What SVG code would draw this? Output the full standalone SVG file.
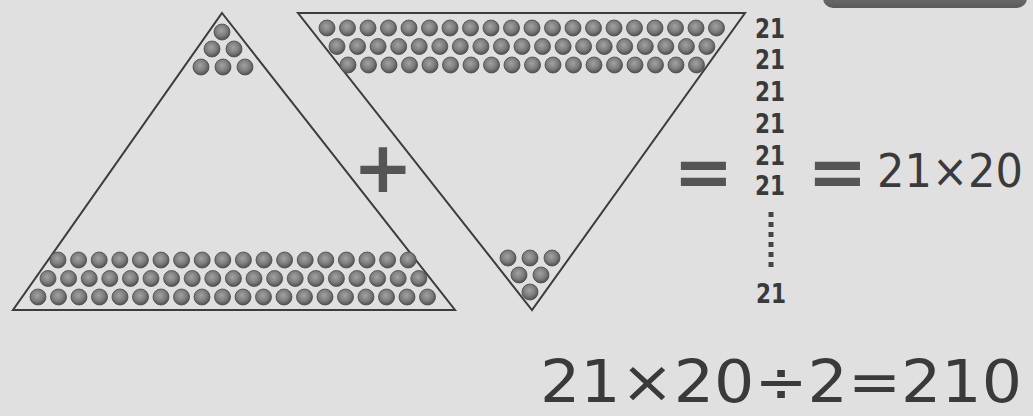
<svg xmlns="http://www.w3.org/2000/svg" width="1033" height="416" viewBox="0 0 1033 416">
<defs>
<radialGradient id="dg" cx="45%" cy="40%" r="60%">
<stop offset="0" stop-color="#a2a2a2"/>
<stop offset="0.6" stop-color="#7c7c7c"/>
<stop offset="1" stop-color="#505050"/>
</radialGradient>
<linearGradient id="tab" x1="0" y1="0" x2="0" y2="1">
<stop offset="0" stop-color="#9a9a9a"/>
<stop offset="1" stop-color="#5a5a5a"/>
</linearGradient>
</defs>
<style>
.tri{fill:none;stroke:#3c3c3c;stroke-width:2;stroke-linejoin:miter}
.dot{fill:url(#dg);stroke:#4a4a4a;stroke-width:0.8}
.t{font-family:"DejaVu Sans","Liberation Sans",sans-serif;fill:#3a3a3a}
.num{font-size:27px;font-weight:bold}
.op{font-size:72px;font-weight:bold;fill:#555}
</style>
<rect x="0" y="0" width="1033" height="416" fill="#e0e0e0"/>
<rect x="823" y="-30" width="204" height="38" rx="10" fill="url(#tab)"/>

<g id="left-triangle">
<polygon class="tri" points="222,13 455,310 13,310"/>
<g>
<circle class="dot" cx="222" cy="32" r="8"/>
<circle class="dot" cx="212" cy="49" r="8"/><circle class="dot" cx="234" cy="49" r="8"/>
<circle class="dot" cx="201" cy="67" r="8"/><circle class="dot" cx="223" cy="67" r="8"/><circle class="dot" cx="245" cy="67" r="8"/>
</g>
<g>
<circle class="dot" cx="58" cy="260" r="8"/><circle class="dot" cx="78.6" cy="260" r="8"/><circle class="dot" cx="99.2" cy="260" r="8"/><circle class="dot" cx="119.8" cy="260" r="8"/><circle class="dot" cx="140.4" cy="260" r="8"/><circle class="dot" cx="161" cy="260" r="8"/><circle class="dot" cx="181.6" cy="260" r="8"/><circle class="dot" cx="202.2" cy="260" r="8"/><circle class="dot" cx="222.8" cy="260" r="8"/><circle class="dot" cx="243.4" cy="260" r="8"/><circle class="dot" cx="264" cy="260" r="8"/><circle class="dot" cx="284.6" cy="260" r="8"/><circle class="dot" cx="305.2" cy="260" r="8"/><circle class="dot" cx="325.8" cy="260" r="8"/><circle class="dot" cx="346.4" cy="260" r="8"/><circle class="dot" cx="367" cy="260" r="8"/><circle class="dot" cx="387.6" cy="260" r="8"/><circle class="dot" cx="408.2" cy="260" r="8"/>
<circle class="dot" cx="48" cy="278.5" r="8"/><circle class="dot" cx="68.6" cy="278.5" r="8"/><circle class="dot" cx="89.2" cy="278.5" r="8"/><circle class="dot" cx="109.8" cy="278.5" r="8"/><circle class="dot" cx="130.4" cy="278.5" r="8"/><circle class="dot" cx="151" cy="278.5" r="8"/><circle class="dot" cx="171.6" cy="278.5" r="8"/><circle class="dot" cx="192.2" cy="278.5" r="8"/><circle class="dot" cx="212.8" cy="278.5" r="8"/><circle class="dot" cx="233.4" cy="278.5" r="8"/><circle class="dot" cx="254" cy="278.5" r="8"/><circle class="dot" cx="274.6" cy="278.5" r="8"/><circle class="dot" cx="295.2" cy="278.5" r="8"/><circle class="dot" cx="315.8" cy="278.5" r="8"/><circle class="dot" cx="336.4" cy="278.5" r="8"/><circle class="dot" cx="357" cy="278.5" r="8"/><circle class="dot" cx="377.6" cy="278.5" r="8"/><circle class="dot" cx="398.2" cy="278.5" r="8"/><circle class="dot" cx="418.8" cy="278.5" r="8"/>
<circle class="dot" cx="38" cy="297" r="8"/><circle class="dot" cx="58.5" cy="297" r="8"/><circle class="dot" cx="79" cy="297" r="8"/><circle class="dot" cx="99.5" cy="297" r="8"/><circle class="dot" cx="120" cy="297" r="8"/><circle class="dot" cx="140.5" cy="297" r="8"/><circle class="dot" cx="161" cy="297" r="8"/><circle class="dot" cx="181.5" cy="297" r="8"/><circle class="dot" cx="202" cy="297" r="8"/><circle class="dot" cx="222.5" cy="297" r="8"/><circle class="dot" cx="243" cy="297" r="8"/><circle class="dot" cx="263.5" cy="297" r="8"/><circle class="dot" cx="284" cy="297" r="8"/><circle class="dot" cx="304.5" cy="297" r="8"/><circle class="dot" cx="325" cy="297" r="8"/><circle class="dot" cx="345.5" cy="297" r="8"/><circle class="dot" cx="366" cy="297" r="8"/><circle class="dot" cx="386.5" cy="297" r="8"/><circle class="dot" cx="407" cy="297" r="8"/><circle class="dot" cx="427.5" cy="297" r="8"/>
</g>
</g>

<g id="right-triangle">
<polygon class="tri" points="298,13 745,13 532,310"/>
<g>
<circle class="dot" cx="327" cy="28" r="8"/><circle class="dot" cx="347.5" cy="28" r="8"/><circle class="dot" cx="368" cy="28" r="8"/><circle class="dot" cx="388.5" cy="28" r="8"/><circle class="dot" cx="409" cy="28" r="8"/><circle class="dot" cx="429.5" cy="28" r="8"/><circle class="dot" cx="450" cy="28" r="8"/><circle class="dot" cx="470.5" cy="28" r="8"/><circle class="dot" cx="491" cy="28" r="8"/><circle class="dot" cx="511.5" cy="28" r="8"/><circle class="dot" cx="532" cy="28" r="8"/><circle class="dot" cx="552.5" cy="28" r="8"/><circle class="dot" cx="573" cy="28" r="8"/><circle class="dot" cx="593.5" cy="28" r="8"/><circle class="dot" cx="614" cy="28" r="8"/><circle class="dot" cx="634.5" cy="28" r="8"/><circle class="dot" cx="655" cy="28" r="8"/><circle class="dot" cx="675.5" cy="28" r="8"/><circle class="dot" cx="696" cy="28" r="8"/><circle class="dot" cx="716.5" cy="28" r="8"/>
<circle class="dot" cx="337" cy="46.5" r="8"/><circle class="dot" cx="357.6" cy="46.5" r="8"/><circle class="dot" cx="378.1" cy="46.5" r="8"/><circle class="dot" cx="398.7" cy="46.5" r="8"/><circle class="dot" cx="419.2" cy="46.5" r="8"/><circle class="dot" cx="439.8" cy="46.5" r="8"/><circle class="dot" cx="460.3" cy="46.5" r="8"/><circle class="dot" cx="480.9" cy="46.5" r="8"/><circle class="dot" cx="501.4" cy="46.5" r="8"/><circle class="dot" cx="522" cy="46.5" r="8"/><circle class="dot" cx="542.5" cy="46.5" r="8"/><circle class="dot" cx="563.1" cy="46.5" r="8"/><circle class="dot" cx="583.6" cy="46.5" r="8"/><circle class="dot" cx="604.2" cy="46.5" r="8"/><circle class="dot" cx="624.7" cy="46.5" r="8"/><circle class="dot" cx="645.3" cy="46.5" r="8"/><circle class="dot" cx="665.8" cy="46.5" r="8"/><circle class="dot" cx="686.4" cy="46.5" r="8"/><circle class="dot" cx="706.9" cy="46.5" r="8"/>
<circle class="dot" cx="348" cy="65" r="8"/><circle class="dot" cx="368.5" cy="65" r="8"/><circle class="dot" cx="389" cy="65" r="8"/><circle class="dot" cx="409.5" cy="65" r="8"/><circle class="dot" cx="430" cy="65" r="8"/><circle class="dot" cx="450.5" cy="65" r="8"/><circle class="dot" cx="471" cy="65" r="8"/><circle class="dot" cx="491.5" cy="65" r="8"/><circle class="dot" cx="512" cy="65" r="8"/><circle class="dot" cx="532.5" cy="65" r="8"/><circle class="dot" cx="553" cy="65" r="8"/><circle class="dot" cx="573.5" cy="65" r="8"/><circle class="dot" cx="594" cy="65" r="8"/><circle class="dot" cx="614.5" cy="65" r="8"/><circle class="dot" cx="635" cy="65" r="8"/><circle class="dot" cx="655.5" cy="65" r="8"/><circle class="dot" cx="676" cy="65" r="8"/><circle class="dot" cx="696.5" cy="65" r="8"/>
</g>
<g>
<circle class="dot" cx="508" cy="258" r="8"/><circle class="dot" cx="530" cy="258" r="8"/><circle class="dot" cx="552" cy="258" r="8"/>
<circle class="dot" cx="519" cy="275" r="8"/><circle class="dot" cx="541" cy="275" r="8"/>
<circle class="dot" cx="530" cy="292" r="8"/>
</g>
</g>

<g id="plus">
<text class="t op" x="383" y="192" text-anchor="middle" font-size="66">+</text>
</g>

<g id="equals-1">
<text class="t op" x="703.5" y="196" text-anchor="middle">=</text>
</g>

<g id="column">
<text class="t num" x="755" y="38" textLength="30" lengthAdjust="spacingAndGlyphs">21</text>
<text class="t num" x="755" y="69" textLength="30" lengthAdjust="spacingAndGlyphs">21</text>
<text class="t num" x="755" y="101" textLength="30" lengthAdjust="spacingAndGlyphs">21</text>
<text class="t num" x="755" y="133" textLength="30" lengthAdjust="spacingAndGlyphs">21</text>
<text class="t num" x="755" y="165" textLength="30" lengthAdjust="spacingAndGlyphs">21</text>
<text class="t num" x="755" y="195" textLength="30" lengthAdjust="spacingAndGlyphs">21</text>
<line x1="771" y1="212" x2="771" y2="268" stroke="#444" stroke-width="5" stroke-dasharray="5 5"/>
<text class="t num" x="756" y="303" textLength="30" lengthAdjust="spacingAndGlyphs">21</text>
</g>

<g id="equals-2">
<text class="t op" x="837.5" y="196" text-anchor="middle">=</text>
</g>

<g id="product">
<text class="t" x="877" y="187" font-size="46" textLength="146" lengthAdjust="spacingAndGlyphs">21×20</text>
</g>

<g id="result">
<text class="t" x="540" y="402" font-size="58" textLength="482" lengthAdjust="spacingAndGlyphs">21×20÷2=210</text>
</g>

<g id="connectors"></g>
</svg>
